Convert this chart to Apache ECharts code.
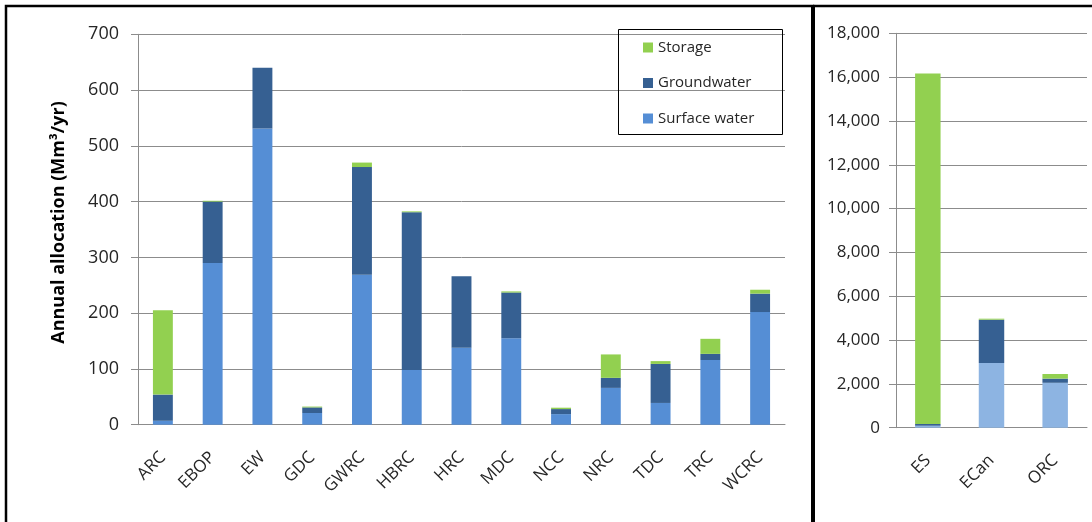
<!DOCTYPE html>
<html>
<head>
<meta charset="utf-8">
<script src="https://cdn.jsdelivr.net/npm/echarts@6/dist/echarts.min.js"></script>
<style>
html,body{margin:0;padding:0;background:#fff;}
#c{width:1092px;height:522px;}
</style>
</head>
<body>
<div id="c"></div>
<script>
// Left panel data (Mm³/yr)
const leftCategories = ['ARC','EBOP','EW','GDC','GWRC','HBRC','HRC','MDC','NCC','NRC','TDC','TRC','WCRC'];
const leftSurface     = [7, 290, 531, 21, 269, 98, 138, 155, 19, 66, 39, 116, 202];
const leftGroundwater = [47, 110, 109, 10, 193, 283, 128, 82, 9, 18, 70, 11, 33];
const leftStorage     = [151, 1.5, 0, 1.5, 8, 1.5, 0, 2, 2.5, 42, 5, 27, 7];
const leftTicks = [0, 100, 200, 300, 400, 500, 600, 700];

// Right panel data (Mm³/yr)
const rightCategories = ['ES','ECan','ORC'];
const rightSurface     = [90, 2950, 2050];
const rightGroundwater = [80, 1980, 190];
const rightStorage     = [16000, 45, 210];
const rightTicks = [0, 2000, 4000, 6000, 8000, 10000, 12000, 14000, 16000, 18000];

const seriesNames = ['Surface water', 'Groundwater', 'Storage'];

const C_SURF = '#558ed5', C_SURF_R = '#8db4e2', C_GW = '#366092', C_ST = '#92d050';
const FONT = 'Open Sans';
const TXT = '#262626';
const GRIDC = '#8c8c8c';

const chart = echarts.init(document.getElementById('c'), null, {renderer: 'canvas'});

function fmt(v){ return v.toLocaleString('en-US'); }

const option = {
  animation: false,
  textStyle: {fontFamily: FONT, color: TXT},
  grid: [
    {left: 138, top: 34.3, width: 647, height: 390.4},
    {left: 896, top: 33.3, width: 191, height: 394.4}
  ],
  legend: {
    orient: 'vertical',
    left: 638, top: 35,
    itemWidth: 10, itemHeight: 10,
    itemGap: 20.5,
    data: ['Storage', 'Groundwater', 'Surface water'],
    textStyle: {fontFamily: FONT, fontSize: 15, color: TXT},
    icon: 'rect'
  },
  xAxis: [
    {type: 'category', gridIndex: 0, data: leftCategories,
     axisLine: {lineStyle: {color: GRIDC}},
     axisTick: {length: 6, lineStyle: {color: GRIDC}},
     axisLabel: {rotate: 45, fontSize: 17, color: TXT, margin: 30, interval: 0, fontFamily: FONT}},
    {type: 'category', gridIndex: 1, data: rightCategories,
     axisLine: {lineStyle: {color: GRIDC}},
     axisTick: {length: 6, lineStyle: {color: GRIDC}},
     axisLabel: {rotate: 45, fontSize: 17, color: TXT, margin: 30, interval: 0, fontFamily: FONT}}
  ],
  yAxis: [
    {type: 'value', gridIndex: 0, min: leftTicks[0], max: leftTicks[leftTicks.length-1], interval: 100,
     name: 'Annual allocation (Mm³/yr)', nameLocation: 'middle', nameGap: 70,
     nameTextStyle: {fontFamily: FONT, fontSize: 18, fontWeight: 'bold', color: '#000', padding: [0, 0, 0, 14]},
     axisLine: {show: true, lineStyle: {color: GRIDC}},
     axisTick: {show: true, length: 7, lineStyle: {color: GRIDC}},
     splitLine: {lineStyle: {color: GRIDC}},
     axisLabel: {fontSize: 18, color: TXT, margin: 19, fontFamily: FONT}},
    {type: 'value', gridIndex: 1, min: rightTicks[0], max: rightTicks[rightTicks.length-1], interval: 2000,
     axisLine: {show: true, lineStyle: {color: GRIDC}},
     axisTick: {show: true, length: 7, lineStyle: {color: GRIDC}},
     splitLine: {lineStyle: {color: GRIDC}},
     axisLabel: {fontSize: 17, color: TXT, margin: 16, fontFamily: FONT, formatter: fmt}}
  ],
  series: [
    {name: seriesNames[0], type: 'bar', stack: 'L', xAxisIndex: 0, yAxisIndex: 0, data: leftSurface,
     barWidth: '40%', itemStyle: {color: C_SURF}},
    {name: seriesNames[1], type: 'bar', stack: 'L', xAxisIndex: 0, yAxisIndex: 0, data: leftGroundwater,
     barWidth: '40%', itemStyle: {color: C_GW}},
    {name: seriesNames[2], type: 'bar', stack: 'L', xAxisIndex: 0, yAxisIndex: 0, data: leftStorage,
     barWidth: '40%', itemStyle: {color: C_ST}},
    {name: 'R-' + seriesNames[0], type: 'bar', stack: 'R', xAxisIndex: 1, yAxisIndex: 1, data: rightSurface,
     barWidth: '40%', itemStyle: {color: C_SURF_R}},
    {name: 'R-' + seriesNames[1], type: 'bar', stack: 'R', xAxisIndex: 1, yAxisIndex: 1, data: rightGroundwater,
     barWidth: '40%', itemStyle: {color: C_GW}},
    {name: 'R-' + seriesNames[2], type: 'bar', stack: 'R', xAxisIndex: 1, yAxisIndex: 1, data: rightStorage,
     barWidth: '40%', itemStyle: {color: C_ST}}
  ],
  graphic: [
    {type: 'rect', shape: {x: 618.5, y: 29.5, width: 164, height: 105}, style: {fill: 'none', stroke: '#000', lineWidth: 1}, z: 10},
    {type: 'rect', shape: {x: 6, y: 6, width: 807, height: 540}, style: {fill: 'none', stroke: '#000', lineWidth: 2.5}, z: 10},
    {type: 'line', shape: {x1: 813, y1: 6, x2: 813, y2: 530}, style: {stroke: '#000', lineWidth: 4}, z: 10},
    {type: 'line', shape: {x1: 813, y1: 6, x2: 1100, y2: 6}, style: {stroke: '#000', lineWidth: 2.5}, z: 10}
  ]
};
chart.setOption(option);
</script>
</body>
</html>
